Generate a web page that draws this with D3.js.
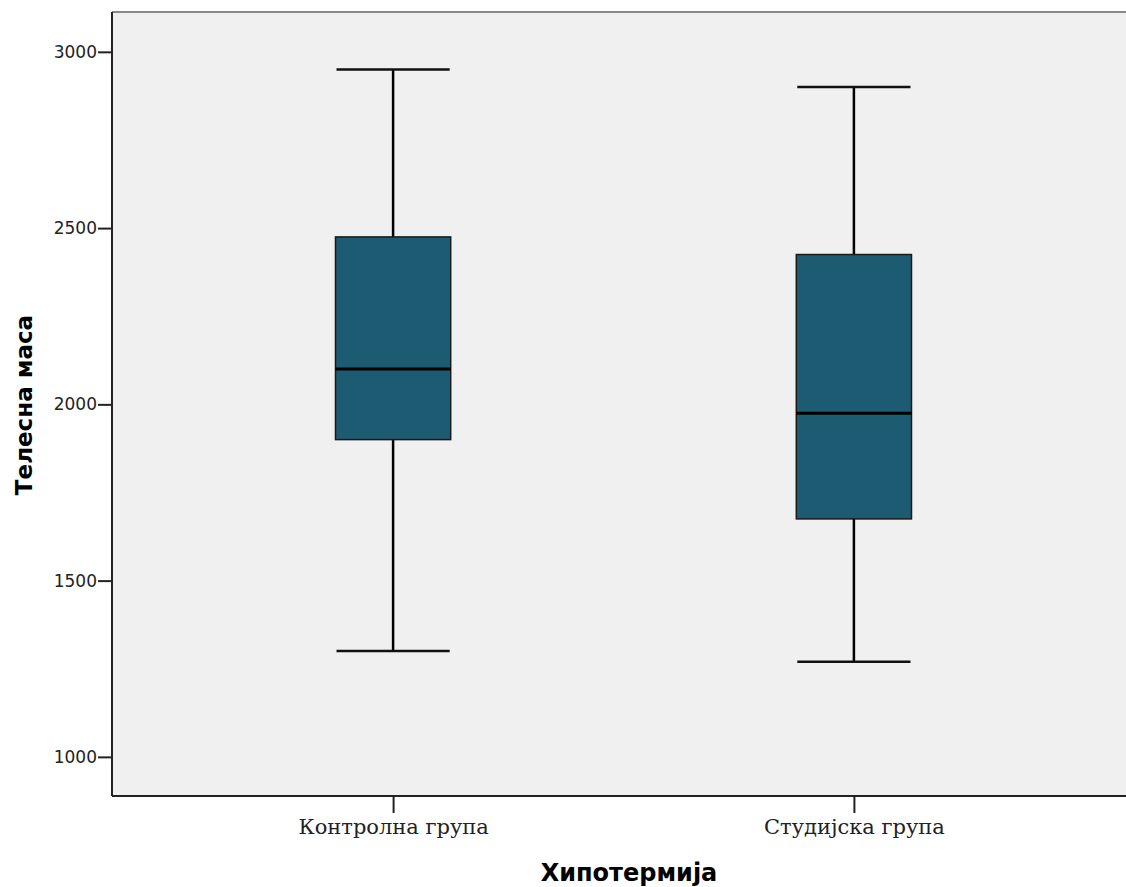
<!DOCTYPE html>
<html>
<head>
<meta charset="utf-8">
<script src="https://cdn.jsdelivr.net/npm/d3@7"></script>
<style>
  body { margin: 0; background: #fff; }
</style>
</head>
<body>
<div id="chart"></div>
<script>
// box plot data
const groups = ["Контролна група", "Студијска група"];
const whiskerLow = [1300, 1270];
const q1 = [1900, 1675];
const median = [2100, 1975];
const q3 = [2475, 2425];
const whiskerHigh = [2950, 2900];
const yTicks = [1000, 1500, 2000, 2500, 3000];

function drawBoxPlot() {
    const width = 1126, height = 887;
    const left = 112, top = 12, bottom = 796, right = 1135;

    const svg = d3.select("#chart")
        .append("svg")
        .attr("width", width)
        .attr("height", height);

    const x = d3.scalePoint()
        .domain(groups)
        .range([left, right])
        .padding(0.61);

    const y = d3.scaleLinear()
        .domain([889, 3113])
        .range([bottom, top]);

    // plot background
    svg.append("rect")
        .attr("x", left)
        .attr("y", top)
        .attr("width", right - left)
        .attr("height", bottom - top)
        .attr("fill", "#f0f0f0");

    svg.append("line")
        .attr("x1", left).attr("x2", width)
        .attr("y1", top).attr("y2", top)
        .style("stroke", "#888")
        .style("stroke-width", 2);

    const boxW = x.step() * 0.25;
    const rows = groups.map((g, i) => ({
        g: g, lo: whiskerLow[i], q1: q1[i], med: median[i], q3: q3[i], hi: whiskerHigh[i]
    }));

    const box = svg.append("g")
        .selectAll("g")
        .data(rows)
        .join("g");

    // whisker stems
    box.append("line")
        .attr("x1", d => x(d.g)).attr("x2", d => x(d.g))
        .attr("y1", d => y(d.hi)).attr("y2", d => y(d.lo))
        .style("stroke", "#000")
        .style("stroke-width", 2.5);

    // whisker caps
    box.selectAll("line.cap")
        .data(d => [{g: d.g, v: d.hi}, {g: d.g, v: d.lo}])
        .join("line")
        .attr("class", "cap")
        .attr("x1", d => x(d.g) - boxW / 2 + 1).attr("x2", d => x(d.g) + boxW / 2 - 1)
        .attr("y1", d => y(d.v)).attr("y2", d => y(d.v))
        .style("stroke", "#111")
        .style("stroke-width", 2.5);

    box.append("rect")
        .attr("x", d => x(d.g) - boxW / 2)
        .attr("width", boxW)
        .attr("y", d => y(d.q3))
        .attr("height", d => y(d.q1) - y(d.q3))
        .attr("fill", "#1d5b72")
        .style("stroke", "#1a1a1a")
        .style("stroke-width", 1.5);

    box.append("line")
        .attr("x1", d => x(d.g) - boxW / 2).attr("x2", d => x(d.g) + boxW / 2)
        .attr("y1", d => y(d.med)).attr("y2", d => y(d.med))
        .style("stroke", "#000")
        .style("stroke-width", 3);

    // axes
    const yAxis = svg.append("g")
        .attr("transform", "translate(" + left + ",0)")
        .call(d3.axisLeft(y).tickValues(yTicks).tickFormat(d3.format("d"))
            .tickSize(14).tickPadding(1).tickSizeOuter(0));
    yAxis.select(".domain").remove();
    yAxis.selectAll(".tick line").style("stroke", "#222").style("stroke-width", 2);
    yAxis.selectAll("text")
        .style("font-family", "'DejaVu Sans'")
        .style("font-size", "17px")
        .style("fill", "#222");

    const xAxis = svg.append("g")
        .attr("transform", "translate(0," + bottom + ")")
        .call(d3.axisBottom(x).tickSize(17).tickPadding(6).tickSizeOuter(0));
    xAxis.select(".domain").remove();
    xAxis.selectAll(".tick line").style("stroke", "#222").style("stroke-width", 2);
    xAxis.selectAll("text")
        .style("font-family", "'DejaVu Serif'")
        .style("font-size", "21px")
        .style("fill", "#222");

    svg.append("line")
        .attr("x1", left).attr("x2", left)
        .attr("y1", top).attr("y2", bottom)
        .style("stroke", "#222").style("stroke-width", 2);
    svg.append("line")
        .attr("x1", left).attr("x2", width)
        .attr("y1", bottom).attr("y2", bottom)
        .style("stroke", "#222").style("stroke-width", 2);

    svg.append("text")
        .attr("x", 629)
        .attr("y", 881)
        .attr("text-anchor", "middle")
        .style("font-family", "'DejaVu Sans'")
        .style("font-weight", "bold")
        .style("font-size", "24px")
        .text("Хипотермија");

    svg.append("text")
        .attr("transform", "translate(32,405) rotate(-90)")
        .attr("text-anchor", "middle")
        .style("font-family", "'DejaVu Sans'")
        .style("font-weight", "bold")
        .style("font-size", "23px")
        .text("Телесна маса");
}
drawBoxPlot();
</script>
</body>
</html>
